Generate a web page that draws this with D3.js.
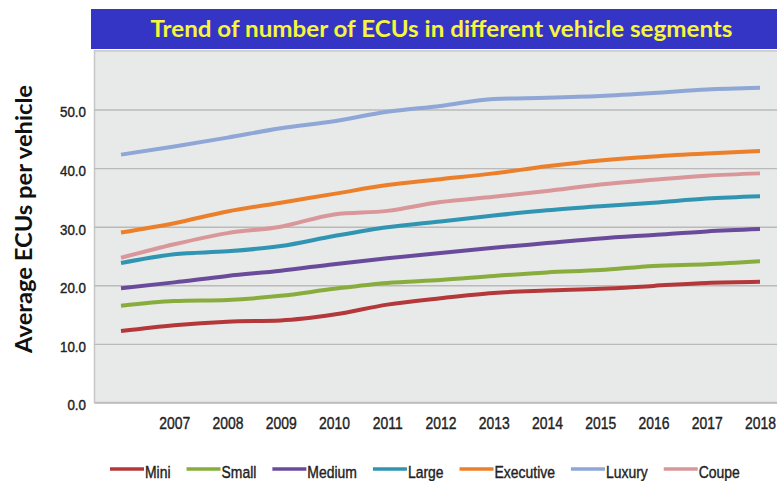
<!DOCTYPE html>
<html>
<head>
<meta charset="utf-8">
<script src="https://cdn.jsdelivr.net/npm/d3@7/dist/d3.min.js"></script>
<style>
  html, body { margin: 0; padding: 0; background: #ffffff; }
  svg { display: block; }
  .tick-label { font-family: "Liberation Sans", Arial, sans-serif; fill: #222; stroke: #222; stroke-width: 0.4px; }
</style>
</head>
<body>
<svg id="chart" width="777" height="481"></svg>
<script>
// Years on the category axis (the first point carries no label)
const years = [2006, 2007, 2008, 2009, 2010, 2011, 2012, 2013, 2014, 2015, 2016, 2017, 2018];
const xTickLabels = [2007, 2008, 2009, 2010, 2011, 2012, 2013, 2014, 2015, 2016, 2017, 2018];
const yTicks = [0, 10, 20, 30, 40, 50];

// Average ECUs per vehicle, by segment
const mini      = [12.2, 13.2, 13.8, 14.0, 15.0, 16.7, 17.8, 18.7, 19.1, 19.4, 19.9, 20.4, 20.6];
const small     = [16.5, 17.3, 17.5, 18.2, 19.4, 20.4, 20.9, 21.6, 22.2, 22.6, 23.3, 23.6, 24.1];
const medium    = [19.5, 20.5, 21.6, 22.5, 23.6, 24.6, 25.5, 26.4, 27.2, 28.0, 28.6, 29.2, 29.6];
const large     = [23.8, 25.3, 25.8, 26.7, 28.4, 29.9, 30.9, 31.9, 32.8, 33.5, 34.1, 34.8, 35.2];
const executive = [29.0, 30.6, 32.6, 34.1, 35.6, 37.1, 38.1, 39.1, 40.3, 41.3, 42.0, 42.5, 42.9];
const luxury    = [42.3, 43.7, 45.2, 46.8, 48.0, 49.6, 50.6, 51.8, 52.0, 52.3, 52.8, 53.4, 53.7];
const coupe     = [24.7, 27.0, 28.9, 30.0, 32.1, 32.7, 34.2, 35.1, 36.1, 37.2, 38.0, 38.7, 39.1];

const segmentNames  = ["Mini", "Small", "Medium", "Large", "Executive", "Luxury", "Coupe"];
const segmentValues = [mini, small, medium, large, executive, luxury, coupe];
const segmentColors = ["#b4383a", "#88ad3d", "#6a4b9b", "#2f95b3", "#ec7f2a", "#8ea7d7", "#d9979a"];

const titleText = "Trend of number of ECUs in different vehicle segments";
const yTitleText = "Average ECUs per vehicle";

// Horizontal squeeze for the condensed axis and legend labels
const narrow = 0.82;
const yNarrow = 0.89;

const svg = d3.select("#chart");
const W = 777;

const plotLeft = 94.5, plotBottom = 402.5;
const x = d3.scalePoint().domain(years).range([121, 760]);
const y = d3.scaleLinear().domain([0, 60]).range([plotBottom, 50.9]);
const plotTop = y(60);

// Title banner
svg.append("rect")
  .attr("x", 91).attr("y", 9).attr("width", W - 91).attr("height", 40)
  .attr("fill", "#3535c5");
svg.append("text")
  .attr("x", 441.5).attr("y", 37)
  .attr("text-anchor", "middle")
  .attr("font-family", "Lato, 'Open Sans', sans-serif")
  .attr("font-weight", "bold")
  .attr("font-size", 23)
  .attr("textLength", 582)
  .attr("lengthAdjust", "spacingAndGlyphs")
  .attr("fill", "#f7f63c")
  .text(titleText);

// Plot area
svg.append("rect")
  .attr("x", plotLeft).attr("y", plotTop)
  .attr("width", W - plotLeft + 2).attr("height", plotBottom - plotTop)
  .attr("fill", "#e8e9e9")
  .attr("stroke", "#c6c6c6").attr("stroke-width", 1.5);

// Y axis with gridlines
const yAxis = svg.append("g")
  .attr("transform", `translate(${plotLeft},0)`)
  .call(d3.axisLeft(y).tickValues(yTicks).tickFormat(d3.format(".1f"))
    .tickSize(-(W - plotLeft)).tickPadding(8.5));
yAxis.select(".domain").remove();
yAxis.selectAll(".tick line").attr("stroke", "#bababa").attr("stroke-width", 1.4);
yAxis.selectAll(".tick text")
  .attr("class", "tick-label")
  .attr("font-size", 15)
  .attr("x", -8.5 / yNarrow)
  .attr("y", 2.6)
  .attr("transform", `scale(${yNarrow},1)`);

// X axis labels
const xAxis = svg.append("g")
  .attr("transform", `translate(0,${plotBottom})`)
  .call(d3.axisBottom(x).tickValues(xTickLabels).tickSize(0));
xAxis.select(".domain").remove();
xAxis.selectAll(".tick text")
  .attr("class", "tick-label")
  .attr("font-size", 17)
  .attr("y", 26.8).attr("dy", 0)
  .attr("transform", `scale(${narrow},1)`);

// Y axis title
svg.append("text")
  .attr("transform", "translate(32,219) rotate(-90)")
  .attr("text-anchor", "middle")
  .attr("font-family", "Lato, 'Open Sans', sans-serif")
  .attr("font-weight", "bold")
  .attr("font-size", 22)
  .attr("textLength", 268)
  .attr("lengthAdjust", "spacingAndGlyphs")
  .attr("fill", "#111")
  .text(yTitleText);

// Series lines
const line = d3.line()
  .x((d, i) => x(years[i]))
  .y(d => y(d))
  .curve(d3.curveMonotoneX);

svg.append("g").selectAll("path")
  .data(segmentValues)
  .join("path")
  .attr("d", d => line(d))
  .attr("fill", "none")
  .attr("stroke", (d, i) => segmentColors[i])
  .attr("stroke-width", 4)
  .attr("stroke-linejoin", "round");

// Legend
const legend = svg.append("g");
let lx = 110;
segmentNames.forEach((name, i) => {
  legend.append("line")
    .attr("x1", lx).attr("x2", lx + 34)
    .attr("y1", 469).attr("y2", 469)
    .attr("stroke", segmentColors[i]).attr("stroke-width", 3.4);
  const t = legend.append("text")
    .attr("class", "tick-label")
    .attr("transform", `translate(${lx + 35},478.3) scale(${narrow},1)`)
    .attr("font-size", 17)
    .text(name);
  lx += 35 + t.node().getComputedTextLength() * narrow + 16;
});
</script>
</body>
</html>
